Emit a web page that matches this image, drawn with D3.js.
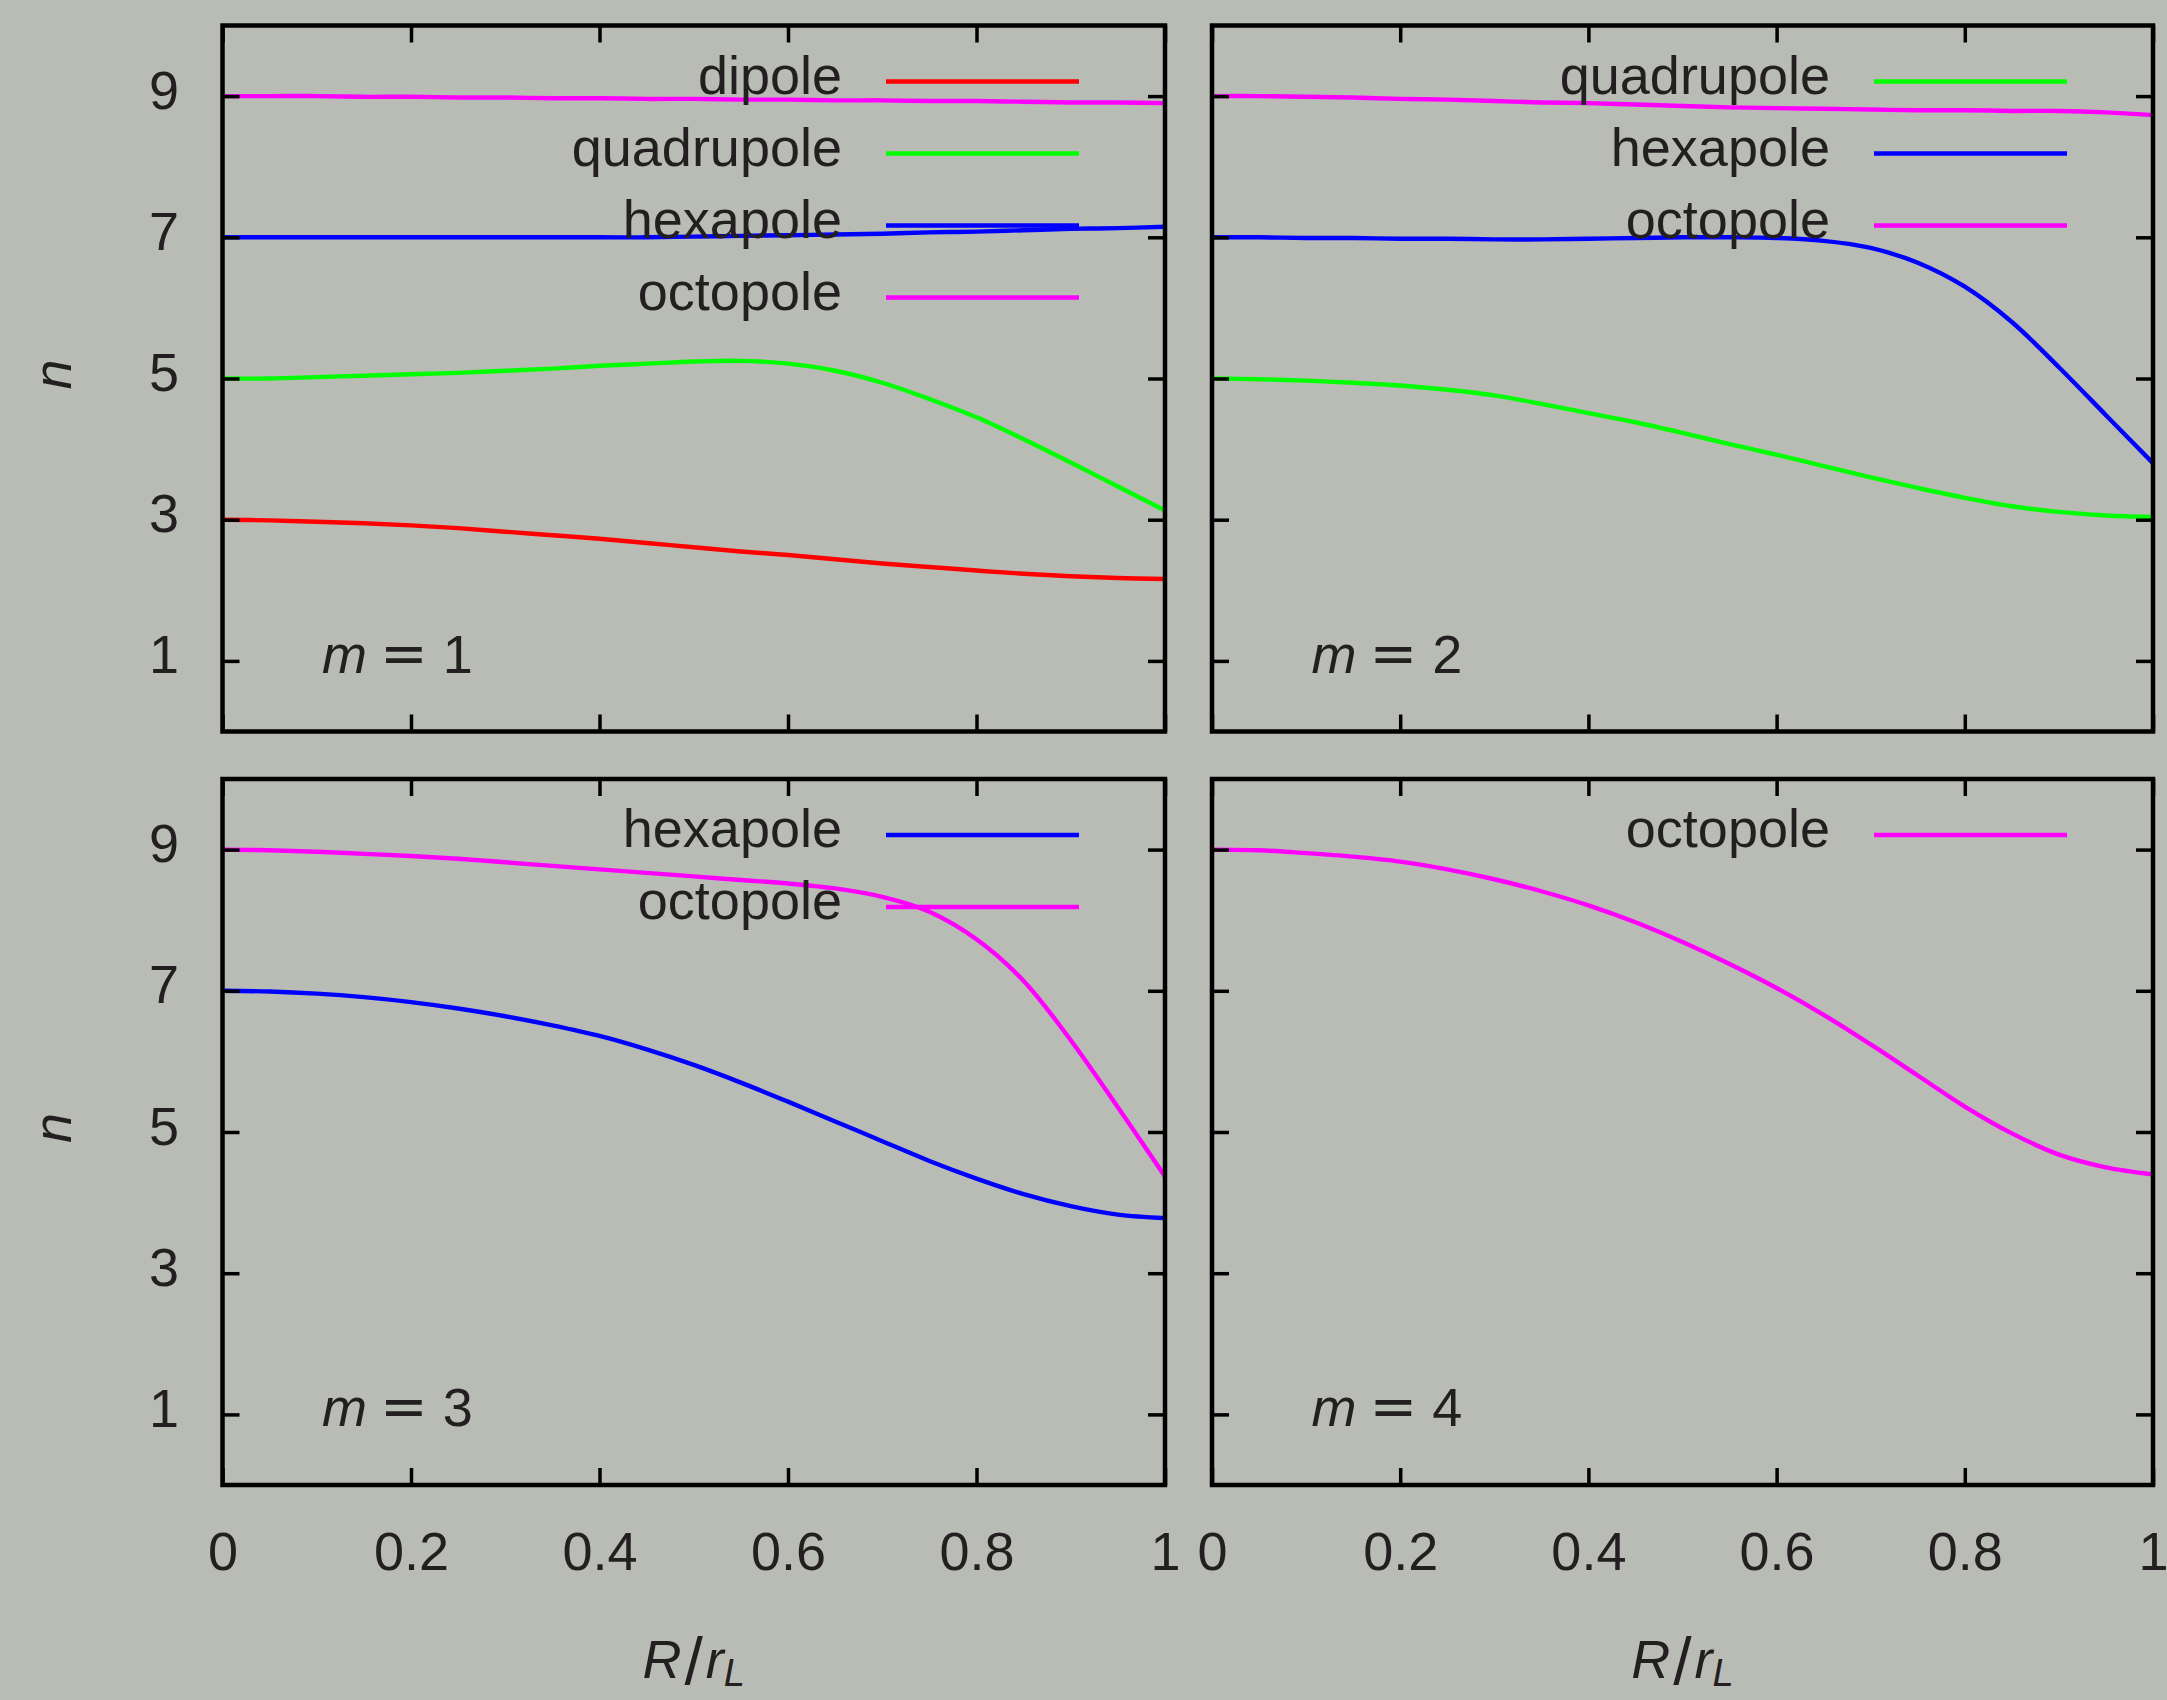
<!DOCTYPE html>
<html>
<head>
<meta charset="utf-8">
<script src="https://cdn.jsdelivr.net/npm/d3@7"></script>
<style>
  body { margin: 0; background: #b9bcb4; }
  text { font-family: "Liberation Sans", Arial, sans-serif; fill: #231f20; }
</style>
</head>
<body>
<script>
// R / r_L sample positions shared by all curves
const rGrid = [0, 0.05, 0.1, 0.15, 0.2, 0.25, 0.3, 0.35, 0.4, 0.45, 0.5,
               0.55, 0.6, 0.65, 0.7, 0.75, 0.8, 0.85, 0.9, 0.95, 1];

const xTicks = [0, 0.2, 0.4, 0.6, 0.8, 1];
const yTicks = [1, 3, 5, 7, 9];

// m = 1
const dipoleM1 = [3.00, 2.99, 2.97, 2.95, 2.92, 2.88, 2.83, 2.78, 2.73, 2.67, 2.61,
                  2.55, 2.50, 2.44, 2.38, 2.33, 2.28, 2.235, 2.20, 2.175, 2.16];
const quadM1   = [5.00, 5.00, 5.02, 5.04, 5.06, 5.08, 5.11, 5.14, 5.18, 5.21, 5.24,
                  5.25, 5.21, 5.11, 4.94, 4.71, 4.45, 4.14, 3.81, 3.47, 3.13];
const hexM1    = [7.00, 7.00, 7.00, 7.00, 7.00, 7.00, 7.00, 7.00, 7.00, 7.00, 7.01,
                  7.02, 7.03, 7.04, 7.05, 7.07, 7.08, 7.10, 7.12, 7.13, 7.15];
const octM1    = [9.00, 9.00, 9.00, 8.99, 8.99, 8.98, 8.98, 8.97, 8.97, 8.96, 8.96,
                  8.95, 8.95, 8.94, 8.94, 8.93, 8.93, 8.92, 8.91, 8.91, 8.90];
// m = 2
const quadM2   = [5.00, 4.99, 4.97, 4.94, 4.90, 4.84, 4.76, 4.64, 4.51, 4.38, 4.23,
                  4.07, 3.92, 3.76, 3.60, 3.45, 3.31, 3.19, 3.11, 3.06, 3.04];
const hexM2    = [7.00, 7.00, 6.99, 6.99, 6.98, 6.98, 6.97, 6.97, 6.98, 6.99, 7.00,
                  7.00, 6.99, 6.95, 6.85, 6.64, 6.30, 5.80, 5.16, 4.48, 3.80];
const octM2    = [9.00, 9.00, 8.99, 8.98, 8.96, 8.95, 8.93, 8.91, 8.90, 8.88, 8.86,
                  8.84, 8.83, 8.82, 8.81, 8.80, 8.80, 8.79, 8.79, 8.77, 8.73];
// m = 3
const hexM3    = [7.00, 6.99, 6.96, 6.91, 6.84, 6.75, 6.64, 6.51, 6.36, 6.17, 5.95,
                  5.70, 5.43, 5.15, 4.87, 4.59, 4.34, 4.12, 3.95, 3.83, 3.78];
const octM3    = [9.00, 8.99, 8.97, 8.94, 8.91, 8.87, 8.82, 8.77, 8.72, 8.67, 8.62,
                  8.57, 8.52, 8.45, 8.33, 8.12, 7.73, 7.14, 6.30, 5.35, 4.37];
// m = 4
const octM4    = [9.00, 8.99, 8.95, 8.90, 8.83, 8.72, 8.58, 8.41, 8.21, 7.97, 7.69,
                  7.38, 7.04, 6.66, 6.24, 5.80, 5.36, 4.98, 4.68, 4.50, 4.40];

const colors = { dipole: "#ff0000", quadrupole: "#00ff00", hexapole: "#0000ff", octopole: "#ff00ff" };

const panels = [
  { m: 1, series: [["dipole", dipoleM1], ["quadrupole", quadM1], ["hexapole", hexM1], ["octopole", octM1]] },
  { m: 2, series: [["quadrupole", quadM2], ["hexapole", hexM2], ["octopole", octM2]] },
  { m: 3, series: [["hexapole", hexM3], ["octopole", octM3]] },
  { m: 4, series: [["octopole", octM4]] }
];

const W = 2167, H = 1700;
const colX = [222.5, 1212], colW = [942.5, 941];
const rowY = [25.5, 779], rowH = 706;
const fontSize = 54;

const svg = d3.select("body").append("svg")
  .attr("width", W).attr("height", H);

svg.append("rect").attr("width", W).attr("height", H).attr("fill", "#b9bcb4");

panels.forEach((p, i) => {
  const col = i % 2, row = Math.floor(i / 2);
  const pw = colW[col];
  const x = d3.scaleLinear().domain([0, 1]).range([0, pw]);
  const y = d3.scaleLinear().domain([0, 10]).range([rowH, 0]);

  const g = svg.append("g").attr("transform", `translate(${colX[col]},${rowY[row]})`);

  g.append("clipPath").attr("id", "clip" + i)
    .append("rect").attr("width", pw).attr("height", rowH);

  // curves
  const line = d3.line()
    .x((d, j) => x(rGrid[j]))
    .y(d => y(d))
    .curve(d3.curveCatmullRom.alpha(0.5));

  p.series.forEach(([name, vals]) => {
    g.append("path")
      .attr("clip-path", `url(#clip${i})`)
      .attr("d", line(vals))
      .attr("fill", "none")
      .attr("stroke", colors[name])
      .attr("stroke-width", 4.4);
  });

  // ticks (inward, mirrored)
  const tick = 17;
  const styleAxis = sel => {
    sel.select(".domain").remove();
    sel.selectAll("line").attr("stroke", "#000").attr("stroke-width", 3.5);
    sel.selectAll("text").style("font-family", "Liberation Sans, Arial, sans-serif")
      .attr("font-size", fontSize).attr("fill", "#231f20");
  };

  const bottom = g.append("g").attr("transform", `translate(0,${rowH})`)
    .call(d3.axisBottom(x).tickValues(xTicks).tickSize(-tick).tickPadding(0)
      .tickFormat(d => row === 1 ? String(d) : ""))
    .call(styleAxis);
  bottom.selectAll("text").attr("y", 85).attr("dy", 0);

  g.append("g")
    .call(d3.axisTop(x).tickValues(xTicks).tickSize(-tick).tickFormat(""))
    .call(styleAxis);

  const left = g.append("g")
    .call(d3.axisLeft(y).tickValues(yTicks).tickSize(-tick)
      .tickFormat(d => col === 0 ? String(d) : ""))
    .call(styleAxis);
  left.selectAll("text").attr("x", -(colX[0] - 179)).attr("dy", 12);

  g.append("g").attr("transform", `translate(${pw},0)`)
    .call(d3.axisRight(y).tickValues(yTicks).tickSize(-tick).tickFormat(""))
    .call(styleAxis);

  // frame
  g.append("rect")
    .attr("width", pw).attr("height", rowH)
    .attr("fill", "none").attr("stroke", "#000").attr("stroke-width", 4.5);

  // legend
  p.series.forEach(([name], k) => {
    const ly = 56 + k * 72;
    g.append("line")
      .attr("x1", pw - 279).attr("x2", pw - 86)
      .attr("y1", ly).attr("y2", ly)
      .attr("stroke", colors[name]).attr("stroke-width", 4.5);
    g.append("text")
      .attr("x", pw - 323).attr("y", ly + 12)
      .attr("text-anchor", "end")
      .attr("font-size", fontSize)
      .text(name);
  });

  // m label
  const mt = g.append("text")
    .attr("x", 99.5).attr("y", y(1) + 12)
    .attr("font-size", fontSize);
  mt.append("tspan").attr("font-style", "italic").text("m");
  mt.append("tspan").attr("dx", 13)
    .style("font-family", "DejaVu Sans, sans-serif").attr("font-size", 57).text("=");
  mt.append("tspan").attr("dx", 15).text(p.m);

  // y axis label
  if (col === 0) {
    svg.append("text")
      .attr("transform", `translate(71,${rowY[row] + rowH / 2 - 4}) rotate(-90)`)
      .attr("text-anchor", "middle")
      .attr("font-size", fontSize)
      .attr("font-style", "italic")
      .text("n");
  }

  // x axis label
  if (row === 1) {
    const t = svg.append("text")
      .attr("x", colX[col] + pw / 2).attr("y", 1678)
      .attr("text-anchor", "middle")
      .attr("font-size", fontSize);
    t.append("tspan").attr("font-style", "italic").text("R");
    t.append("tspan").attr("font-size", 66).attr("dx", 3).attr("dy", 6).text("/");
    t.append("tspan").attr("font-style", "italic").attr("dx", 3).attr("dy", -6).text("r");
    t.append("tspan").attr("font-style", "italic").attr("font-size", 38).attr("dy", 8).text("L");
  }
});
</script>
</body>
</html>
